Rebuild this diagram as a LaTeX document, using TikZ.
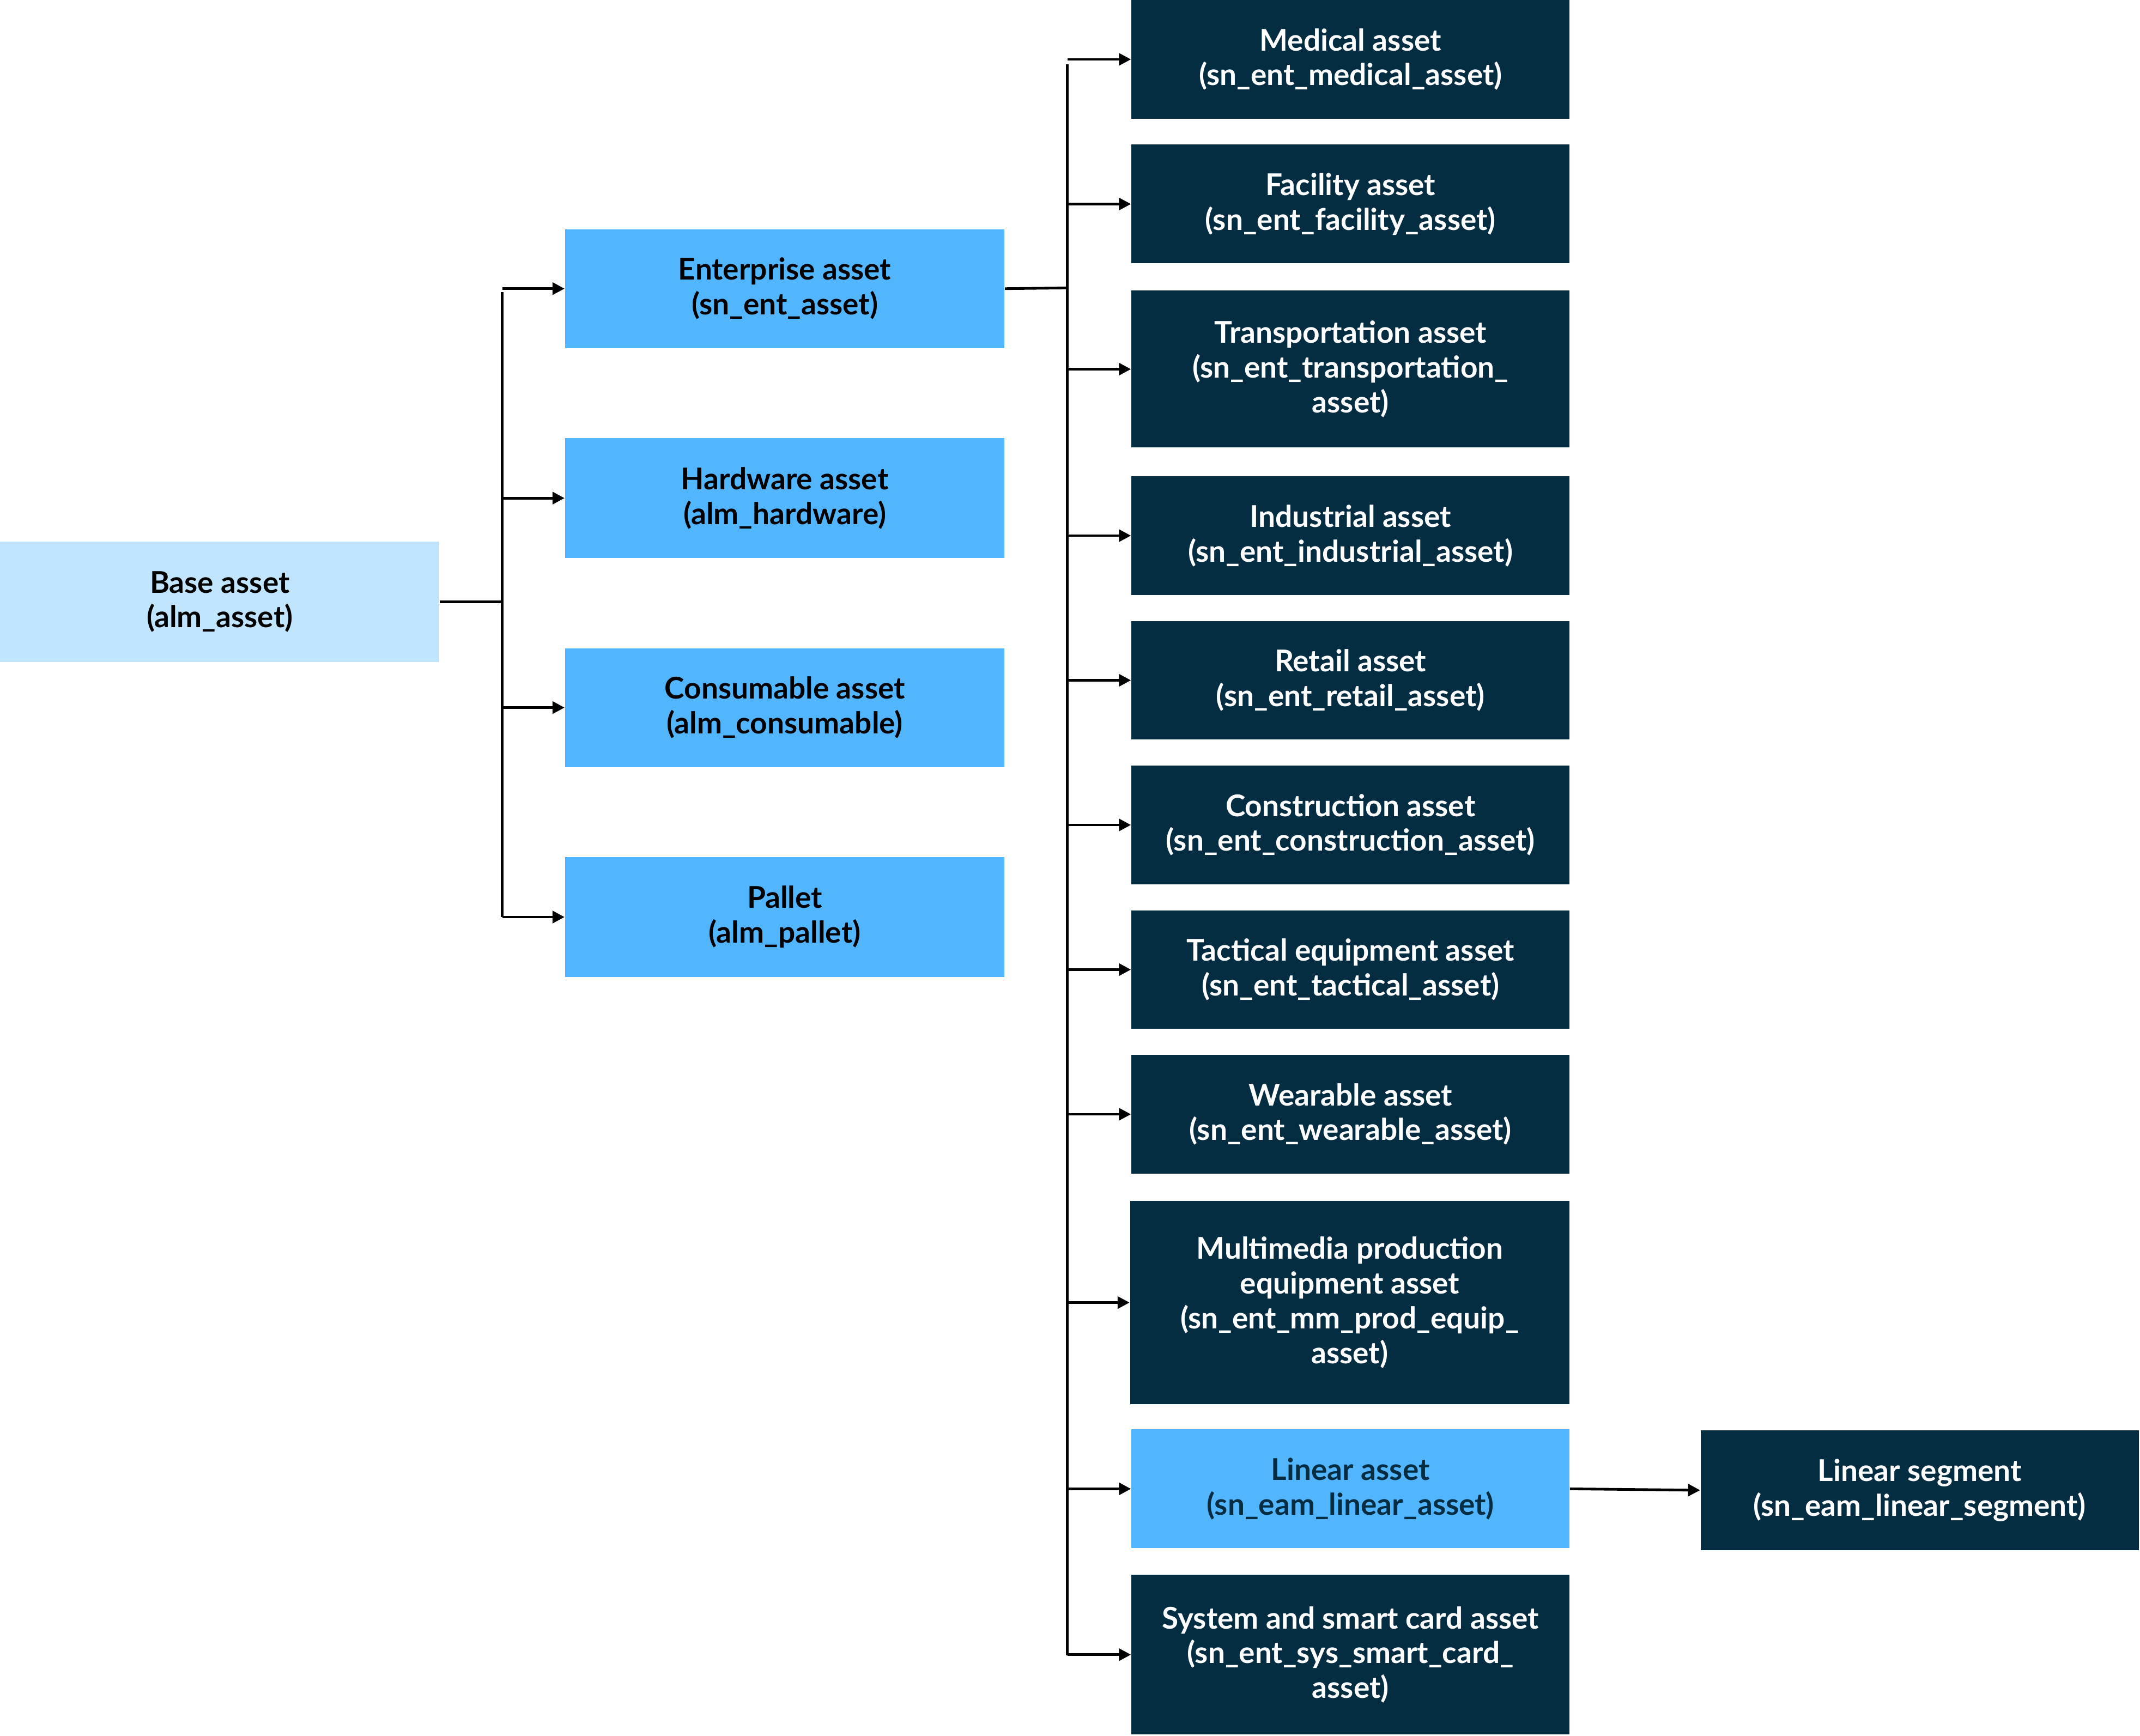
\documentclass[tikz,border=0pt]{standalone}
\usepackage{fontspec}
\setmainfont{Lato}
\usetikzlibrary{arrows.meta}
\definecolor{lb}{HTML}{C2E5FF}
\definecolor{mb}{HTML}{52B6FF}
\definecolor{db}{HTML}{052D42}
\begin{document}
\begin{tikzpicture}[x=0.02cm,y=-0.02cm,
  box/.style={draw=none,inner sep=0pt,align=center,font=\bfseries\fontsize{12.5}{14.5}\selectfont},
  base/.style={box,fill=lb,text=black},
  mid/.style={box,fill=mb,text=black},
  dark/.style={box,fill=db,text=white},
  con/.style={line width=1.1pt},
  arr/.style={con,-{Triangle[length=5pt,width=5pt]}}]
\useasboundingbox (0,0) rectangle (1568,1272);
\newcommand{\bx}[6]{\node[#1,minimum width={(#3-#2)*0.02cm},minimum height={(#5-#4)*0.02cm}] (#6) at ({(#2+#3)/2},{(#4+#5)/2})}
\bx{base}{0}{322}{397}{485}{base} {Base asset\\(alm\_asset)};
\bx{mid}{414}{736}{168}{255}{ent} {Enterprise asset\\(sn\_ent\_asset)};
\bx{mid}{414}{736}{321}{409}{hw} {Hardware asset\\(alm\_hardware)};
\bx{mid}{414}{736}{475}{562}{cons} {Consumable asset\\(alm\_consumable)};
\bx{mid}{414}{736}{628}{716}{pal} {Pallet\\(alm\_pallet)};
\bx{dark}{829}{1150}{0}{87}{d1} {Medical asset\\(sn\_ent\_medical\_asset)};
\bx{dark}{829}{1150}{106}{193}{d2} {Facility asset\\(sn\_ent\_facility\_asset)};
\bx{dark}{829}{1150}{213}{328}{d3} {Transportation asset\\(sn\_ent\_transportation\_\\asset)};
\bx{dark}{829}{1150}{349}{436}{d4} {Industrial asset\\(sn\_ent\_industrial\_asset)};
\bx{dark}{829}{1150}{455}{542}{d5} {Retail asset\\(sn\_ent\_retail\_asset)};
\bx{dark}{829}{1150}{561}{648}{d6} {Construction asset\\(sn\_ent\_construction\_asset)};
\bx{dark}{829}{1150}{667}{754}{d7} {Tactical equipment asset\\(sn\_ent\_tactical\_asset)};
\bx{dark}{829}{1150}{773}{860}{d8} {Wearable asset\\(sn\_ent\_wearable\_asset)};
\bx{dark}{828}{1150}{880}{1029}{d9} {Multimedia production\\equipment asset\\(sn\_ent\_mm\_prod\_equip\_\\asset)};
\node[mid,text=db,minimum width=6.42cm,minimum height=1.74cm] (d10) at (989.5,1091) {Linear asset\\(sn\_eam\_linear\_asset)};
\bx{dark}{829}{1150}{1154}{1271}{d11} {System and smart card asset\\(sn\_ent\_sys\_smart\_card\_\\asset)};
\bx{dark}{1246}{1567}{1048}{1136}{seg} {Linear segment\\(sn\_eam\_linear\_segment)};
\coordinate (j1) at (368,441);
\coordinate (j2) at (782,211);
\draw[con] (base.east) -- (j1);
\draw[con] (368,214) -- (368,672);
\foreach \n in {ent,hw,cons,pal} \draw[arr] (368,0 |- \n.west) -- (\n.west);
\draw[con] (ent.east) -- (j2);
\draw[con] (782,47) -- (782,1213);
\foreach \n in {d1,d2,d3,d4,d5,d6,d7,d8,d9,d10,d11} \draw[arr] (782,0 |- \n.west) -- (\n.west);
\draw[arr] (d10.east) -- (seg.west);
\end{tikzpicture}
\end{document}
